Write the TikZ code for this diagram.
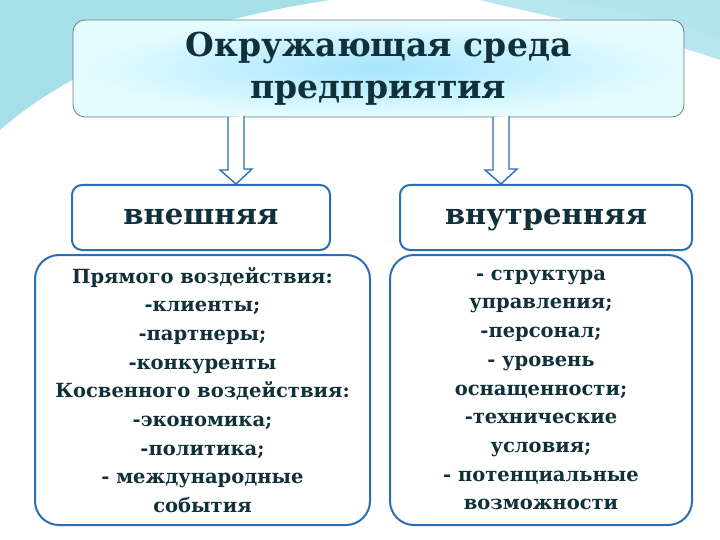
\documentclass[tikz,border=0pt]{standalone}
\usepackage{fontspec}
\setmainfont{DejaVu Serif}
\definecolor{bord}{HTML}{2C6DB8}
\definecolor{txt}{HTML}{10303A}
\definecolor{teal1}{HTML}{7FD3E0}
\definecolor{teal2}{HTML}{B8E6EE}
\tikzset{
  box/.style={draw=bord,line width=2pt,rounded corners=10pt,fill=white,text=txt,font=\bfseries,align=center,inner sep=0pt},
  down/.style={draw=bord,line width=1.4pt,fill=white},
}
\begin{document}
\begin{tikzpicture}[x=1pt,y=-1pt]
\useasboundingbox (0,0) rectangle (720,540);
\fill[white] (0,0) rectangle (720,540);
% decoration
\fill[teal1!70] (0,0) -- (330,0) .. controls (200,20) and (80,60) .. (0,130) -- cycle;
\fill[teal2] (330,0) -- (720,0) -- (720,60) .. controls (650,35) and (560,20) .. (480,0) -- cycle;
\fill[teal1!60] (560,0) -- (720,0) -- (720,40) .. controls (680,20) and (620,8) .. (560,0) -- cycle;
% title
\node[box,line width=0.8pt,draw=gray!70!bord,rounded corners=12pt,inner color=blue!30!cyan!35,outer color=blue!10!cyan!10,minimum width=611pt,minimum height=97pt,font=\bfseries\fontsize{33}{42}\selectfont] (title) at (378.5,68.5) {Окружающая среда\\предприятия};
% small boxes
\node[box,minimum width=258pt,minimum height=65pt,text height=20pt,text depth=6pt,font=\bfseries\fontsize{29}{30}\selectfont] (ext) at (201,217.5) {внешняя};
\node[box,minimum width=292pt,minimum height=65pt,text height=20pt,text depth=6pt,font=\bfseries\fontsize{29}{30}\selectfont] (int) at (546,217.5) {внутренняя};
% arrows
\coordinate (a1) at (236,117);
\coordinate (a2) at (501,117);
\draw[down] (a1) ++(-8,0) -- ++(0,53) -- ++(-8,0) -- (ext.north -| a1) -- ++(16,-15) -- ++(-8,0) -- ++(0,-53);
\draw[down] (a2) ++(-8,0) -- ++(0,53) -- ++(-8,0) -- (int.north -| a2) -- ++(16,-15) -- ++(-8,0) -- ++(0,-53);
% big boxes
\node[box,minimum width=335pt,minimum height=270pt,rounded corners=24pt,font=\bfseries\fontsize{19.5}{28.7}\selectfont] (extl) at (202.5,390) {Прямого воздействия:\\-клиенты;\\-партнеры;\\-конкуренты\\Косвенного воздействия:\\-экономика;\\-политика;\\- международные\\события};
\node[box,minimum width=302pt,minimum height=270pt,rounded corners=24pt,font=\bfseries\fontsize{19.5}{28.7}\selectfont] (intl) at (541,390) {- структура\\управления;\\-персонал;\\- уровень\\оснащенности;\\-технические\\условия;\\- потенциальные\\возможности};
\end{tikzpicture}
\end{document}
